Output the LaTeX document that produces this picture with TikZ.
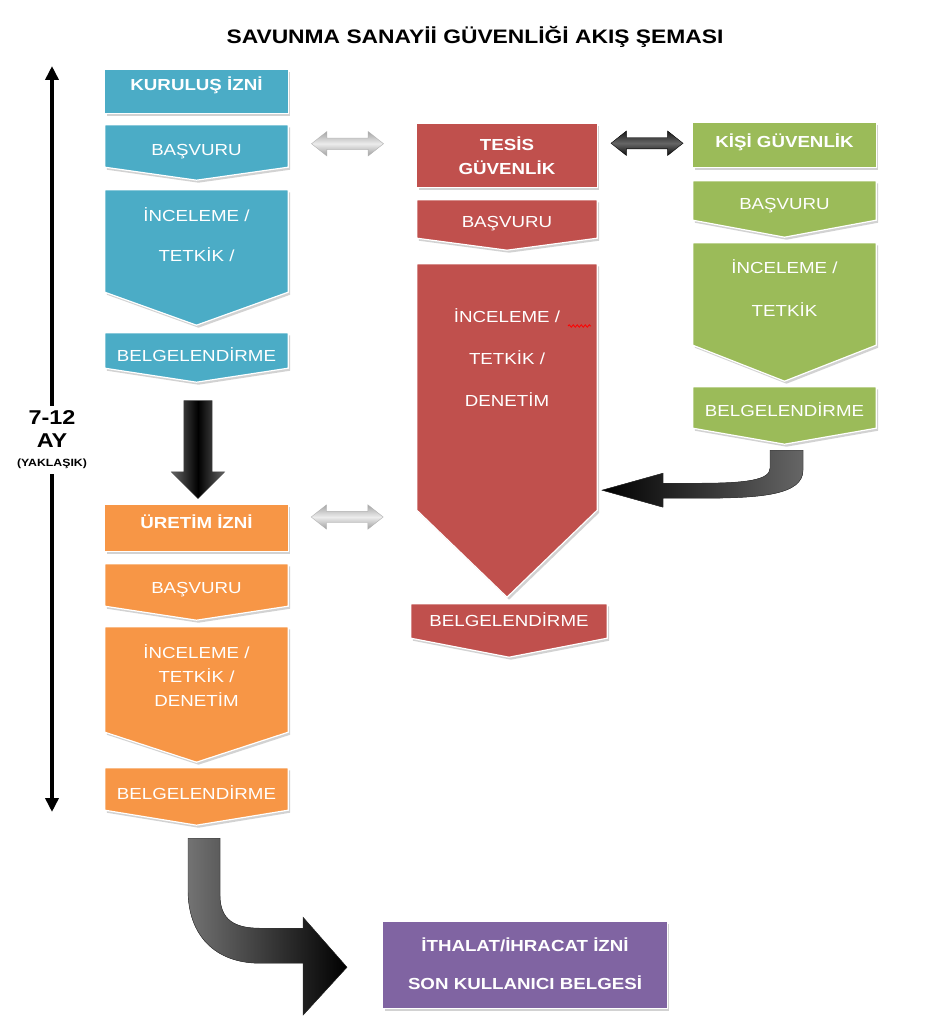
\documentclass[tikz,border=0pt]{standalone}
\usepackage{fontspec}
\setmainfont{Liberation Sans}[FakeStretch=1.17]
\usetikzlibrary{calc,shapes.arrows,shadows,backgrounds,arrows.meta,decorations.pathmorphing}
\definecolor{kblue}{HTML}{4BACC6}
\definecolor{kred}{HTML}{C0504D}
\definecolor{kgreen}{HTML}{9BBB59}
\definecolor{korange}{HTML}{F79646}
\definecolor{kpurple}{HTML}{8064A2}

\begin{document}
\begin{tikzpicture}[x=1pt,y=-1pt]
  \tikzstyle{every node}+=[inner sep=0pt]
  \tikzstyle{box}=[minimum width=183]
  \tikzstyle{txt}=[text=white, align=center, font=\fontsize{16}{24}\selectfont]
  \tikzstyle{plate}=[draw=white, line width=1.2pt, drop shadow={shadow xshift=2pt, shadow yshift=-2.5pt, fill=black!35, opacity=0.5}]
  \tikzstyle{grayarrow}=[double arrow, inner ysep=5.5pt, minimum height=72, double arrow head extend=6.5, double arrow tip angle=77, draw=gray!60, line width=0.4pt, top color=gray!70, bottom color=gray!75, middle color=gray!15]
  \tikzstyle{blackarrow}=[draw=black!80, line width=0.4pt]
  \tikzstyle{timeline}=[line width=3.5pt, -{Triangle[width=13pt,length=14pt]}]
  \useasboundingbox (0,0) rectangle (946,1024);

  % title
  \node[font=\bfseries\fontsize{19.5}{22}\selectfont] (title) at (475,37) {SAVUNMA SANAYİİ GÜVENLİĞİ AKIŞ ŞEMASI};

  % kurulus izni
  \node[box, minimum height=43] (kiz) at (196.5,91.5) {};
  \node[box, minimum height=42] (kbas) at (196.5,146) {};
  \node[box, minimum height=102] (kinc) at (196.5,241) {};
  \node[box, minimum height=35] (kbel) at (196.5,350.5) {};
  \node[txt, anchor=base] (kiztxt) at (196.5,91) {\textbf{KURULUŞ İZNİ}};
  \node[txt, anchor=base] (kbastxt) at (196.5,156) {BAŞVURU};
  \node[txt] (kinctxt) at (196.5,235) {İNCELEME /\\[16pt]TETKİK /};
  \node[txt, anchor=base] (kbeltxt) at (196.5,361) {BELGELENDİRME};

  % uretim izni
  \node[box, minimum height=46] (uiz) at (196.5,528) {};
  \node[box, minimum height=42] (ubas) at (196.5,585) {};
  \node[box, minimum height=105] (uinc) at (196.5,679.5) {};
  \node[box, minimum height=42] (ubel) at (196.5,789) {};
  \node[txt, anchor=base] (uiztxt) at (196.5,528) {\textbf{ÜRETİM İZNİ}};
  \node[txt, anchor=base] (ubastxt) at (196.5,593) {BAŞVURU};
  \node[txt] (uinctxt) at (196.5,676) {İNCELEME /\\TETKİK /\\DENETİM};
  \node[txt, anchor=base] (ubeltxt) at (196.5,799) {BELGELENDİRME};

  % tesis guvenlik
  \node[box, minimum width=180, minimum height=63] (tgv) at (507,155.5) {};
  \node[box, minimum width=180, minimum height=38] (tbas) at (507,219) {};
  \node[box, minimum width=180, minimum height=246] (tinc) at (507,387) {};
  \node[box, minimum width=196, minimum height=34] (tbel) at (509,621) {};
  \node[txt] (tgvtxt) at (507,155.5) {\textbf{TESİS}\\\textbf{GÜVENLİK}};
  \node[txt, anchor=base] (tbastxt) at (507,228) {BAŞVURU};
  \node[txt] (tinctxt) at (507,358) {İNCELEME /\\[18pt]TETKİK /\\[18pt]DENETİM};
  \node[txt, anchor=base] (tbeltxt) at (509,626) {BELGELENDİRME};

  % kisi guvenlik
  \node[box, minimum height=44] (kgv) at (784.5,145) {};
  \node[box, minimum height=39] (gbas) at (784.5,200.5) {};
  \node[box, minimum height=102] (ginc) at (784.5,294) {};
  \node[box, minimum height=41] (gbel) at (784.5,407.5) {};
  \node[txt, anchor=base] (kgvtxt) at (784.5,148) {\textbf{KİŞİ GÜVENLİK}};
  \node[txt, anchor=base] (gbastxt) at (784.5,210) {BAŞVURU};
  \node[txt] (ginctxt) at (784.5,288.5) {İNCELEME /\\[19pt]TETKİK};
  \node[txt, anchor=base] (gbeltxt) at (784.5,416) {BELGELENDİRME};

  % ithalat / ihracat
  \node[box, minimum width=284, minimum height=86] (ith) at (525,965) {};
  \node[txt, font=\bfseries\fontsize{16}{24}\selectfont] (ithtxt) at (525,964) {İTHALAT/İHRACAT İZNİ\\[14pt]SON KULLANICI BELGESİ};

  \begin{scope}[on background layer]
    \fill[white] (0,0) rectangle (946,1024);
    \filldraw[plate, fill=kblue] (kiz.north west) rectangle (kiz.south east);
    \filldraw[plate, fill=kblue] (kbas.north west) -- (kbas.north east) -- (kbas.south east) -- ($(kbas.south)+(0,13)$) -- (kbas.south west) -- cycle;
    \filldraw[plate, fill=kblue] (kinc.north west) -- (kinc.north east) -- (kinc.south east) -- ($(kinc.south)+(0,33)$) -- (kinc.south west) -- cycle;
    \filldraw[plate, fill=kblue] (kbel.north west) -- (kbel.north east) -- (kbel.south east) -- ($(kbel.south)+(0,14)$) -- (kbel.south west) -- cycle;
    \filldraw[plate, fill=korange] (uiz.north west) rectangle (uiz.south east);
    \filldraw[plate, fill=korange] (ubas.north west) -- (ubas.north east) -- (ubas.south east) -- ($(ubas.south)+(0,14)$) -- (ubas.south west) -- cycle;
    \filldraw[plate, fill=korange] (uinc.north west) -- (uinc.north east) -- (uinc.south east) -- ($(uinc.south)+(0,30)$) -- (uinc.south west) -- cycle;
    \filldraw[plate, fill=korange] (ubel.north west) -- (ubel.north east) -- (ubel.south east) -- ($(ubel.south)+(0,15)$) -- (ubel.south west) -- cycle;
    \filldraw[plate, fill=kred] (tgv.north west) rectangle (tgv.south east);
    \filldraw[plate, fill=kred] (tbas.north west) -- (tbas.north east) -- (tbas.south east) -- ($(tbas.south)+(0,12)$) -- (tbas.south west) -- cycle;
    \filldraw[plate, fill=kred] (tinc.north west) -- (tinc.north east) -- (tinc.south east) -- ($(tinc.south)+(0,87)$) -- (tinc.south west) -- cycle;
    \filldraw[plate, fill=kred] (tbel.north west) -- (tbel.north east) -- (tbel.south east) -- ($(tbel.south)+(0,19)$) -- (tbel.south west) -- cycle;
    \filldraw[plate, fill=kgreen] (kgv.north west) rectangle (kgv.south east);
    \filldraw[plate, fill=kgreen] (gbas.north west) -- (gbas.north east) -- (gbas.south east) -- ($(gbas.south)+(0,17)$) -- (gbas.south west) -- cycle;
    \filldraw[plate, fill=kgreen] (ginc.north west) -- (ginc.north east) -- (ginc.south east) -- ($(ginc.south)+(0,36)$) -- (ginc.south west) -- cycle;
    \filldraw[plate, fill=kgreen] (gbel.north west) -- (gbel.north east) -- (gbel.south east) -- ($(gbel.south)+(0,16)$) -- (gbel.south west) -- cycle;
    \filldraw[plate, fill=kpurple] (ith.north west) rectangle (ith.south east);
  \end{scope}

  % spell check mark
  \draw[red, line width=0.8pt, decorate, decoration={snake, amplitude=1.2pt, segment length=4pt}] (568,326) -- (591,326);

  % arrows between the boxes
  \node[single arrow, rotate=-90, inner ysep=14pt, minimum height=98, single arrow head extend=12.5, single arrow tip angle=90, draw=black!70, line width=0.4pt, left color=black!60, right color=black!60, middle color=black] (dn) at ($(kbel.south)!0.5!(uiz.north)+(1.5,6)$) {};
  \node[grayarrow] (dg1) at ($(kbas.east)!0.5!(tgv.west)+(-5,-7)$) {};
  \node[grayarrow, top color=black!90, bottom color=black!95, middle color=black!60, draw=black] (db) at ($(tgv.east)!0.5!(kgv.west)+(2,-7)$) {};
  \node[grayarrow] (dg2) at ($(uiz.east)+(59,-11)$) {};

  \begin{scope}[shift={(gbel.south)}]
    \filldraw[blackarrow, left color=black, right color=black!60] (-14.5,22) -- (18.5,22) -- (18.5,42) .. controls (18.5,67) and (-24.5,70) .. (-84.5,70) -- (-121.5,70) -- (-121.5,79) -- (-182.5,62) -- (-121.5,45) -- (-121.5,55) -- (-84.5,55) .. controls (-39.5,55) and (-14.5,52) .. (-14.5,40) -- cycle;
  \end{scope}
  \begin{scope}[shift={(ubel.south)}]
    \filldraw[blackarrow, left color=black!55, right color=black] (-8.5,28) -- (23.5,28) -- (23.5,85) .. controls (23.5,110) and (38.5,118) .. (63.5,118) -- (106.5,118) -- (106.5,107) -- (150.5,157) -- (106.5,205) -- (106.5,153) -- (63.5,153) .. controls (18.5,153) and (-8.5,125) .. (-8.5,80) -- cycle;
  \end{scope}

  % time line
  \node[text=black, align=center, font=\bfseries\fontsize{20}{23}\selectfont, inner ysep=5pt] (ay) at (52,440) {7-12\\AY\\[-4pt]{\fontsize{10.5}{12}\selectfont (YAKLAŞIK)}};
  \coordinate (ttop) at (52,66);
  \coordinate (tbot) at (52,812);
  \draw[timeline] (ay.north) -- (ttop);
  \draw[timeline] (ay.south) -- (tbot);
\end{tikzpicture}
\end{document}
